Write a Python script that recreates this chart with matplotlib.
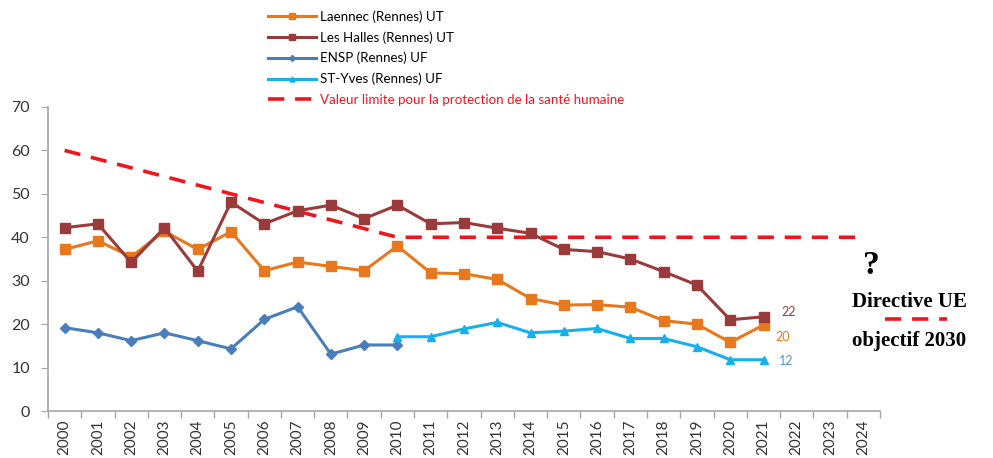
""" Recreate NO2 Rennes chart """

import matplotlib
matplotlib.use("Agg")
import matplotlib.pyplot as plt

years = [str(y) for y in range(2000, 2025)]

laennec = [37.2, 39.2, 35.5, 41.4, 37.2, 41.3, 32.3, 34.3, 33.3, 32.3, 38.0,
           31.8, 31.6, 30.3, 25.9, 24.4, 24.5, 23.9, 20.8, 20.0, 15.8, 19.8]
halles = [42.2, 43.1, 34.2, 42.2, 32.2, 48.1, 43.1, 46.1, 47.4, 44.3, 47.4,
          43.1, 43.4, 42.1, 40.9, 37.2, 36.7, 35.0, 32.1, 29.0, 21.0, 21.7]
ensp = [19.2, 18.0, 16.2, 18.0, 16.2, 14.3, 21.1, 24.0, 13.1, 15.2, 15.2]
styves = [17.1, 17.1, 18.9, 20.4, 18.0, 18.4, 19.0, 16.7, 16.7, 14.8, 11.8, 11.8]
limite = [60, 58, 56, 54, 52, 50, 48, 46, 44, 42, 40, 40, 40, 40, 40, 40, 40,
          40, 40, 40, 40, 40, 40, 40, 40]

c_orange = '#E8781E'
c_brown = '#993B3A'
c_blue = '#4A7EBB'
c_cyan = '#17B0EC'
c_red = '#F0141E'

plt.rcParams['font.family'] = ['Lato', 'DejaVu Sans']

fig = plt.figure(figsize=(9.93, 4.58), dpi=100)
ax = fig.add_axes([0.0483, 0.1026, 0.8379, 0.6638])

x_all = list(range(len(years)))
lw = 2.2
ax.plot(x_all[:len(limite)], limite, color=c_red, lw=2.6, ls=(0, (4.5, 3)),
        label='Valeur limite pour la protection de la santé humaine', zorder=2)
ax.plot(x_all[:len(laennec)], laennec, color=c_orange, lw=lw, marker='s',
        ms=6.5, label='Laennec (Rennes) UT', zorder=3)
ax.plot(x_all[:len(halles)], halles, color=c_brown, lw=lw, marker='s',
        ms=6.5, label='Les Halles (Rennes) UT', zorder=4)
ax.plot(x_all[:len(ensp)], ensp, color=c_blue, lw=lw, marker='D',
        ms=5, label='ENSP (Rennes) UF', zorder=3)
ax.plot(x_all[10:10 + len(styves)], styves, color=c_cyan, lw=lw, marker='^',
        ms=6, label='ST-Yves (Rennes) UF', zorder=3)

ax.text(21.55, halles[-1] + 1.0, '22', color=c_brown, fontsize=9, va='center')
ax.text(21.35, laennec[-1] - 2.8, '20', color=c_orange, fontsize=9, va='center')
ax.text(21.45, styves[-1] - 0.4, '12', color='#4F94D9', fontsize=9, va='center')

ax.set_xlim(-0.5, 24.5)
ax.set_ylim(0, 70)
ax.set_yticks(range(0, 71, 10))
ax.set_xticks(x_all)
ax.set_xticklabels(years, rotation=90, fontsize=11, color='#333333')
ax.set_xticks([i - 0.5 for i in range(len(years) + 1)], minor=True)
ax.tick_params(axis='x', which='major', length=0, pad=6)
ax.tick_params(axis='x', which='minor', length=5, color='#A6A6A6', width=1)
ax.tick_params(axis='y', length=5, color='#A6A6A6', labelsize=11.5,
               labelcolor='#333333', pad=8)
for side in ['top', 'right']:
    ax.spines[side].set_visible(False)
for side in ['left', 'bottom']:
    ax.spines[side].set_color('#A6A6A6')
    ax.spines[side].set_linewidth(1.2)

handles, labels = ax.get_legend_handles_labels()
order = [1, 2, 3, 4, 0]
leg = fig.legend([handles[i] for i in order], [labels[i] for i in order],
                 loc='upper left', bbox_to_anchor=(0.262, 0.995), frameon=False,
                 fontsize=9.6, handlelength=3.6, labelspacing=0.62,
                 handletextpad=0.3, borderaxespad=0.2, markerscale=0.6)
leg.get_texts()[-1].set_color(c_red)

serif = ['Liberation Serif', 'DejaVu Serif']
fig.text(0.877, 0.42, '?', fontsize=24, fontweight='bold', family=serif,
         ha='center', va='center')
fig.text(0.916, 0.341, 'Directive UE', fontsize=15, fontweight='bold',
         family=serif, ha='center', va='center')
fig.text(0.915, 0.255, 'objectif 2030', fontsize=15, fontweight='bold',
         family=serif, ha='center', va='center')
fig.add_artist(plt.Line2D([0.891, 0.954], [0.303, 0.303], color=c_red,
                          lw=2.6, ls=(0, (4.5, 3)), transform=fig.transFigure))

fig.savefig('out.png', dpi=100)
